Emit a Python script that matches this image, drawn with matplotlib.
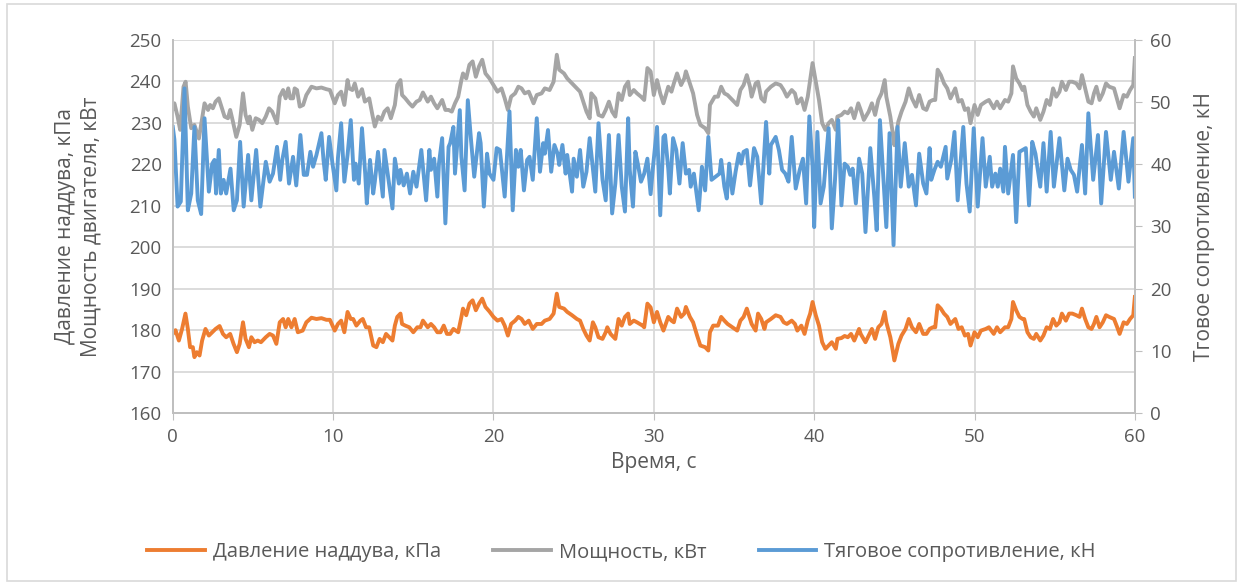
import matplotlib
matplotlib.use('Agg')
import matplotlib.pyplot as plt
from matplotlib.patches import Rectangle

# --- data ---
# boost pressure, kPa (left axis)
t_boost = [0, 0.17, 0.38, 0.58, 0.79, 0.94, 1.08, 1.25, 1.35, 1.5, 1.67, 1.83, 2.04, 2.25, 2.46, 2.67,
           2.92, 3.13, 3.33, 3.58, 3.79, 4.0, 4.17, 4.38, 4.54, 4.75, 4.9, 5.1, 5.3, 5.5, 5.8, 6.04,
           6.25, 6.46, 6.67, 6.88, 7.04, 7.2, 7.4, 7.6, 7.8, 8.1, 8.33, 8.65, 8.96, 9.27, 9.58,
           9.8, 10.1, 10.3, 10.5, 10.7, 10.9, 11.1, 11.25, 11.45, 11.7, 11.85, 12.05, 12.25, 12.5,
           12.7, 12.9, 13.1, 13.3, 13.5, 13.7, 13.85, 14.0, 14.2, 14.3, 14.5, 14.75, 15.0, 15.25,
           15.45, 15.6, 15.9, 16.1, 16.3, 16.5, 16.7, 16.9, 17.1, 17.3, 17.5, 17.8, 18.0, 18.1,
           18.3, 18.5, 18.7, 18.9, 19.1, 19.3, 19.5, 19.75,
           20.0, 20.25, 20.5, 20.7, 20.9, 21.1, 21.35, 21.55, 21.75, 21.95, 22.2, 22.45, 22.7, 23.0,
           23.2, 23.5, 23.75, 23.95, 24.1, 24.4, 24.6, 24.9, 25.2, 25.4, 25.6, 25.8, 26.0, 26.2,
           26.35, 26.55, 26.8, 27.0, 27.1, 27.3, 27.6, 27.8, 28.0, 28.2, 28.4, 28.5, 28.75, 28.95,
           29.3, 29.4, 29.6,
           29.8, 30.0, 30.2, 30.4, 30.6, 30.9, 31.1, 31.25, 31.45, 31.7, 31.9, 32.0, 32.25, 32.45,
           32.7, 32.9, 33.2, 33.4, 33.5, 33.7, 34.0, 34.2, 34.4, 34.6, 34.9, 35.2, 35.4, 35.6, 35.8,
           36.0, 36.1, 36.35, 36.5, 36.7, 36.9, 37.0, 37.3, 37.6, 37.9, 38.1, 38.3, 38.6, 38.8,
           38.95, 39.2, 39.4, 39.6, 39.75,
           39.9, 40.1, 40.3, 40.5, 40.7, 40.9, 41.1, 41.35, 41.45, 41.7, 41.9, 42.1, 42.3, 42.5,
           42.8, 42.9, 43.2, 43.4, 43.6, 43.8, 44.0, 44.2, 44.4, 44.5, 44.75, 44.9, 45.0, 45.25,
           45.45, 45.7, 45.9, 46.1, 46.35, 46.55, 46.8, 47.0, 47.2, 47.4, 47.55, 47.7, 47.9, 48.1,
           48.3, 48.5, 48.8, 49.0, 49.2, 49.4, 49.6, 49.75,
           50.0, 50.2, 50.4, 50.7, 50.9, 51.2, 51.4, 51.6, 51.9, 52.1, 52.3, 52.4, 52.6, 52.8, 53.0,
           53.1, 53.3, 53.5, 53.7, 53.85, 54.1, 54.3, 54.5, 54.7, 54.9, 55.1, 55.3, 55.45, 55.7,
           55.9, 56.1, 56.35, 56.55, 56.7, 56.9, 57.1, 57.3, 57.45, 57.6, 57.8, 58.0, 58.2, 58.4,
           58.7, 58.9, 59.05, 59.3, 59.5, 59.7, 59.9, 60.0]
boost = [179.1, 180.0, 177.5, 180.3, 184.0, 180.3, 175.9, 175.9, 173.5, 174.7, 173.9, 177.5, 180.3,
         178.7, 179.5, 180.3, 181.0, 179.1, 178.3, 179.1, 176.7, 174.7, 176.7, 181.9, 177.9, 175.9,
         178.3, 177.1, 177.5, 177.1, 178.3, 179.1, 178.7, 176.7, 181.9, 182.7, 180.7, 182.7, 180.7,
         182.7, 179.5, 179.9, 181.9, 183.0, 182.7, 182.9, 182.5,
         182.5, 179.9, 181.5, 182.3, 179.5, 184.4, 182.7, 182.7, 181.1, 182.3, 182.7, 180.7, 180.7,
         176.3, 175.9, 177.9, 177.1, 179.1, 178.3, 177.5, 181.1, 183.2, 184.0, 181.5, 181.1, 180.7,
         179.5, 180.7, 180.7, 182.3, 180.7, 181.5, 180.7, 179.5, 179.5, 181.1, 179.1, 179.1, 180.3,
         179.5, 183.2, 185.2, 183.6, 186.4, 187.2, 184.8, 186.4, 187.6, 185.6, 184.5,
         183.2, 182.3, 182.7, 181.1, 178.7, 181.5, 182.3, 183.2, 182.7, 181.5, 182.3, 180.3, 181.5,
         181.5, 182.3, 182.7, 184.0, 188.8, 185.6, 185.2, 184.4, 183.6, 182.7, 182.3, 180.3, 178.7,
         177.5, 181.9, 180.7, 178.3, 177.9, 179.5, 180.7, 179.1, 177.9, 182.7, 181.1, 183.2, 184.0,
         181.5, 182.3, 181.9, 181.1, 180.7, 186.4,
         185.5, 181.9, 184.4, 181.9, 179.9, 183.2, 182.3, 181.9, 185.2, 183.2, 184.0, 185.6, 183.2,
         181.9, 178.7, 176.3, 175.9, 175.1, 179.5, 181.1, 181.1, 183.2, 182.3, 181.5, 180.7, 179.9,
         182.3, 183.2, 185.2, 182.7, 181.5, 179.9, 184.0, 182.7, 180.3, 181.9, 182.7, 183.6, 183.2,
         181.9, 181.5, 182.3, 181.5, 179.9, 181.1, 179.1, 182.3, 184.0,
         186.8, 183.6, 181.1, 177.1, 175.5, 176.3, 177.1, 175.5, 177.9, 178.1, 178.6, 178.3, 179.1,
         177.5, 180.3, 179.1, 177.1, 178.7, 180.3, 177.9, 180.7, 181.5, 184.4, 181.9, 178.3, 175.1,
         172.7, 176.7, 178.7, 180.3, 182.7, 180.7, 179.5, 181.5, 179.1, 179.1, 180.3, 180.7, 180.7,
         186.0, 185.2, 184.0, 183.2, 181.5, 182.7, 180.3, 180.7, 178.7, 179.1, 176.3,
         179.5, 178.3, 179.9, 180.3, 180.7, 179.1, 180.7, 179.5, 180.7, 180.7, 182.7, 186.8, 184.8,
         183.2, 182.7, 182.7, 179.5, 178.3, 177.9, 179.1, 177.5, 178.7, 180.7, 180.3, 182.7, 181.1,
         181.9, 184.0, 182.3, 184.0, 184.0, 183.6, 183.2, 185.2, 182.7, 180.7, 180.3, 181.5, 183.2,
         180.7, 181.9, 183.6, 183.2, 182.7, 180.7, 179.1, 181.9, 181.5, 182.7, 183.6, 188.0]

# engine power, kW (left axis)
t_power = [0, 0.1, 0.3, 0.46, 0.67, 0.8, 0.94, 1.15, 1.35, 1.63, 1.83, 1.98, 2.2, 2.33, 2.5, 2.67,
           2.87, 3.0, 3.23, 3.44, 3.58, 3.75, 3.96, 4.17, 4.38, 4.54, 4.7, 4.8, 4.96, 5.17, 5.38,
           5.58, 5.8, 6.0, 6.2, 6.5, 6.67, 6.88, 7.04, 7.2, 7.33, 7.5, 7.6, 7.75, 7.92, 8.13, 8.33,
           8.65, 8.96, 9.27, 9.58,
           9.8, 10.1, 10.3, 10.5, 10.7, 10.9, 11.0, 11.2, 11.35, 11.56, 11.8, 11.98, 12.25, 12.45,
           12.6, 12.8, 13.0, 13.2, 13.4, 13.6, 13.85, 14.0, 14.2, 14.3, 14.5, 14.75, 14.95, 15.2,
           15.4, 15.6, 15.9, 16.1, 16.3, 16.5, 16.8, 17.0, 17.2, 17.4, 17.6, 17.8, 18.0, 18.1, 18.3,
           18.5, 18.7, 18.9, 19.1, 19.3, 19.5, 19.75,
           20.0, 20.25, 20.5, 20.7, 20.9, 21.1, 21.35, 21.55, 21.75, 21.95, 22.2, 22.5, 22.7, 23.0,
           23.2, 23.5, 23.75, 23.95, 24.1, 24.4, 24.6, 24.9, 25.2, 25.4, 25.6, 25.8, 26.0, 26.1,
           26.35, 26.55, 26.8, 27.0, 27.2, 27.4, 27.6, 27.8, 28.0, 28.2, 28.4, 28.5, 28.75, 28.95,
           29.2, 29.4, 29.6,
           29.8, 30.0, 30.2, 30.4, 30.6, 30.9, 31.1, 31.25, 31.45, 31.7, 31.9, 32.0, 32.25, 32.45,
           32.7, 32.9, 33.2, 33.4, 33.5, 33.8, 34.0, 34.2, 34.4, 34.6, 34.9, 35.2, 35.4, 35.6, 35.8,
           36.0, 36.1, 36.35, 36.5, 36.7, 36.9, 37.0, 37.3, 37.6, 37.9, 38.1, 38.3, 38.6, 38.8,
           38.95, 39.2, 39.4, 39.6, 39.75,
           39.9, 40.1, 40.3, 40.5, 40.7, 40.9, 41.1, 41.35, 41.45, 41.7, 41.9, 42.1, 42.3, 42.5,
           42.75, 42.9, 43.1, 43.4, 43.6, 43.8, 44.0, 44.2, 44.4, 44.5, 44.75, 44.9, 45.0, 45.25,
           45.45, 45.7, 45.9, 46.1, 46.35, 46.55, 46.8, 47.0, 47.2, 47.4, 47.55, 47.7, 47.9, 48.1,
           48.3, 48.5, 48.8, 49.0, 49.2, 49.4, 49.6, 49.75,
           50.0, 50.2, 50.4, 50.7, 50.9, 51.2, 51.4, 51.6, 51.9, 52.1, 52.3, 52.4, 52.6, 52.8, 53.0,
           53.1, 53.3, 53.5, 53.7, 53.85, 54.1, 54.3, 54.5, 54.7, 54.9, 55.1, 55.3, 55.45, 55.7,
           55.9, 56.1, 56.35, 56.55, 56.7, 56.9, 57.1, 57.3, 57.45, 57.6, 57.8, 58.0, 58.2, 58.4,
           58.7, 58.9, 59.05, 59.3, 59.5, 59.7, 59.9, 60.0]
power = [233.5, 234.7, 231.5, 228.3, 238.7, 239.9, 233.9, 228.7, 229.5, 226.2, 231.1, 234.7, 233.1,
         234.3, 233.5, 235.1, 235.9, 234.3, 231.5, 231.1, 233.1, 230.3, 226.6, 229.5, 237.1, 231.9,
         229.9, 231.5, 228.3, 231.1, 230.7, 229.9, 231.5, 233.5, 232.7, 229.9, 236.3, 237.9, 235.9,
         238.3, 235.9, 235.9, 238.3, 237.9, 233.9, 234.3, 236.7, 238.7, 238.3, 238.5, 238.1,
         237.9, 234.7, 236.7, 237.5, 234.3, 240.3, 238.3, 237.9, 239.5, 236.3, 238.1, 235.1, 235.9,
         231.9, 229.1, 231.5, 230.7, 232.7, 233.5, 231.1, 234.3, 239.1, 240.3, 236.7, 235.9, 234.7,
         233.9, 235.1, 235.5, 237.3, 235.1, 236.3, 234.7, 233.5, 235.5, 233.1, 233.1, 232.7, 234.7,
         236.3, 240.3, 241.9, 240.7, 244.0, 244.8, 241.1, 243.6, 245.2, 241.9, 240.7,
         239.1, 237.5, 238.3, 235.9, 233.1, 236.3, 237.1, 238.7, 238.3, 237.1, 237.5, 234.7, 236.7,
         237.1, 238.3, 237.9, 239.9, 246.4, 242.8, 241.9, 240.7, 239.5, 238.3, 237.5, 235.1, 232.7,
         231.1, 237.1, 235.9, 231.9, 231.5, 233.1, 235.1, 232.7, 231.5, 237.1, 235.5, 238.7, 239.9,
         236.7, 237.9, 237.1, 236.3, 235.5, 243.2,
         242.4, 236.7, 240.3, 237.1, 234.7, 238.7, 237.5, 239.5, 241.9, 239.1, 240.7, 242.4, 239.5,
         237.1, 231.9, 229.5, 228.7, 227.5, 234.3, 236.3, 236.3, 238.7, 237.1, 236.7, 235.5, 234.3,
         237.9, 239.1, 241.5, 238.7, 236.3, 239.5, 239.9, 235.9, 235.1, 237.5, 238.7, 239.5, 239.1,
         237.9, 236.3, 237.9, 237.1, 234.7, 235.9, 233.1, 236.3, 240.3,
         244.4, 239.9, 235.5, 229.9, 228.3, 229.9, 230.7, 228.3, 231.5, 231.9, 232.7, 232.3, 233.5,
         231.1, 234.7, 233.1, 230.7, 232.7, 234.7, 231.9, 235.5, 237.1, 240.3, 236.3, 231.5, 227.5,
         224.6, 230.3, 232.7, 235.1, 238.3, 235.9, 233.9, 236.7, 233.5, 233.1, 235.1, 235.5, 235.5,
         242.8, 241.5, 239.5, 238.3, 235.9, 238.3, 235.1, 235.5, 233.1, 233.5, 229.9,
         234.3, 231.9, 234.3, 235.1, 235.5, 233.5, 235.1, 233.5, 235.5, 235.1, 237.1, 243.6, 240.7,
         239.5, 237.9, 238.7, 234.3, 232.7, 231.5, 233.5, 230.7, 232.7, 235.5, 234.3, 238.3, 236.3,
         237.5, 239.9, 237.9, 239.9, 239.9, 239.5, 238.3, 241.5, 238.3, 235.1, 234.7, 237.1, 238.7,
         235.5, 237.1, 239.5, 238.7, 238.3, 235.5, 233.5, 236.7, 236.3, 237.9, 239.1, 245.6]

# draft resistance, kN (right axis)
t_drag = [0, 0.1, 0.3, 0.5, 0.73, 0.94, 1.15, 1.35, 1.56, 1.77, 1.98, 2.25, 2.46, 2.6, 2.7, 2.87,
          3.0, 3.17, 3.33, 3.48, 3.6, 3.8, 4.0, 4.2, 4.42, 4.7, 4.9, 5.2, 5.46, 5.8, 6.04, 6.25,
          6.5, 6.7, 6.83, 7.04, 7.25, 7.5, 7.7, 7.96, 8.17, 8.37, 8.58, 8.75, 8.96, 9.27, 9.4,
          9.54, 9.75,
          9.96, 10.2, 10.3, 10.5, 10.7, 10.9, 11.1, 11.3, 11.4, 11.6, 11.8, 12.0, 12.1, 12.3, 12.5,
          12.6, 12.8, 13.1, 13.2, 13.4, 13.7, 13.85, 14.1, 14.2, 14.4, 14.6, 14.8, 15.0, 15.2,
          15.5, 15.6, 15.8, 16.0, 16.1, 16.3, 16.5, 16.6, 16.8, 17.0, 17.2, 17.3, 17.5, 17.6,
          17.9, 18.0, 18.2, 18.4, 18.6, 18.8, 19.1, 19.2, 19.4, 19.6, 19.75,
          20.0, 20.2, 20.4, 20.7, 21.0, 21.2, 21.4, 21.55, 21.7, 21.9, 22.1, 22.25, 22.45, 22.7,
          22.9, 23.1, 23.2, 23.4, 23.6, 23.8, 24.0, 24.1, 24.3, 24.5, 24.6, 24.9, 25.0, 25.2,
          25.4, 25.6, 25.8, 26.0, 26.35, 26.55, 26.8, 27.0, 27.2, 27.4, 27.6, 27.8, 28.0, 28.2,
          28.4, 28.5, 28.7, 28.85, 29.0, 29.2, 29.4, 29.6,
          29.8, 29.95, 30.2, 30.4, 30.6, 30.7, 30.9, 31.0, 31.2, 31.4, 31.6, 31.8, 32.0, 32.2,
          32.3, 32.5, 32.8, 33.0, 33.2, 33.4, 33.6, 33.85, 34.1, 34.2, 34.4, 34.55, 34.7, 34.9,
          35.1, 35.3, 35.45, 35.6, 35.8, 36.0, 36.25, 36.45, 36.7, 37.0, 37.2, 37.3, 37.6, 37.8,
          38.0, 38.2, 38.4, 38.6, 38.85, 39.1, 39.3, 39.5, 39.7,
          39.9, 40.0, 40.2, 40.4, 40.6, 40.9, 41.1, 41.3, 41.5, 41.7, 41.9, 42.1, 42.25, 42.4,
          42.6, 42.8, 43.0, 43.2, 43.5, 43.75, 43.9, 44.1, 44.3, 44.5, 44.7, 44.95, 45.2, 45.4,
          45.65, 45.9, 46.1, 46.35, 46.55, 46.8, 47.0, 47.2, 47.3, 47.5, 47.7, 47.9, 48.2, 48.3,
          48.55, 48.75, 48.95, 49.3, 49.5, 49.7,
          49.95, 50.2, 50.5, 50.7, 50.95, 51.1, 51.3, 51.45, 51.6, 51.8, 51.9, 52.1, 52.4, 52.6,
          52.8, 53.0, 53.2, 53.4, 53.6, 53.8, 54.1, 54.3, 54.5, 54.75, 54.95, 55.3, 55.6, 55.8,
          56.0, 56.2, 56.4, 56.7, 56.9, 57.1, 57.4, 57.7, 57.9, 58.2, 58.5, 58.7, 59.0, 59.3,
          59.6, 59.9, 60.0]
drag = [46.0, 44.0, 33.2, 34.0, 52.2, 32.6, 35.3, 46.0, 34.2, 32.0, 47.4, 35.6, 40.1, 40.7, 35.3,
        42.3, 35.3, 37.5, 35.3, 37.5, 39.3, 32.6, 34.2, 43.6, 33.2, 41.5, 34.2, 42.3, 33.2, 40.4,
        37.2, 38.5, 42.8, 37.5, 40.7, 43.6, 36.9, 41.2, 36.6, 44.7, 38.3, 38.3, 42.0, 39.6, 41.5,
        45.0, 40.7, 37.5, 44.4,
        40.1, 35.8, 41.0, 46.6, 37.2, 41.5, 47.1, 37.5, 40.1, 36.9, 45.8, 38.5, 33.7, 40.7, 35.3,
        37.2, 42.0, 34.8, 42.3, 38.5, 32.9, 40.9, 36.9, 39.1, 36.6, 38.5, 35.3, 38.8, 36.4, 42.3,
        39.6, 34.2, 42.3, 39.1, 40.9, 34.8, 40.1, 44.2, 30.5, 42.8, 43.4, 46.0, 38.5, 48.7, 41.2,
        35.8, 50.3, 43.9, 38.0, 45.0, 43.4, 33.2, 41.7, 38.5,
        37.5, 42.6, 42.3, 34.8, 48.5, 32.6, 42.3, 39.6, 42.3, 35.8, 40.7, 41.2, 37.5, 47.4, 38.8,
        43.4, 41.7, 45.5, 38.8, 43.1, 41.7, 39.9, 43.1, 38.5, 41.5, 35.6, 40.9, 38.0, 42.3, 36.4,
        38.8, 44.2, 35.6, 46.6, 37.5, 34.2, 44.7, 32.1, 36.9, 44.7, 36.4, 32.4, 47.4, 39.1, 33.2,
        42.0, 40.1, 37.2, 38.5, 40.9,
        35.2, 39.6, 46.0, 31.8, 44.4, 44.7, 39.3, 35.3, 44.2, 42.3, 36.9, 43.4, 38.5, 39.1, 36.4,
        38.5, 32.6, 39.6, 35.8, 44.4, 37.5, 38.0, 38.5, 40.7, 36.4, 34.5, 40.1, 35.3, 38.8, 41.7,
        40.1, 42.0, 42.3, 36.6, 42.6, 41.2, 33.7, 46.8, 38.5, 43.1, 44.4, 42.3, 39.1, 38.5, 37.2,
        44.4, 36.1, 39.1, 40.9, 33.7, 47.7,
        39.6, 29.9, 45.2, 33.7, 36.4, 45.8, 29.7, 37.5, 47.1, 33.4, 40.1, 39.6, 38.3, 39.3, 33.7,
        40.9, 38.5, 29.1, 42.6, 34.8, 29.4, 47.1, 38.5, 29.9, 45.0, 27.0, 46.0, 36.4, 43.4, 36.4,
        38.3, 33.4, 41.7, 36.9, 35.3, 42.6, 37.5, 39.1, 40.4, 39.6, 42.8, 37.7, 40.7, 45.2, 34.2,
        46.0, 36.9, 32.4,
        45.8, 33.2, 44.2, 36.4, 41.2, 36.4, 38.5, 36.4, 39.3, 35.6, 42.8, 35.3, 41.5, 30.7, 42.0,
        42.3, 42.6, 33.4, 43.6, 41.7, 36.4, 43.4, 35.6, 45.2, 36.4, 44.2, 35.8, 40.9, 39.1, 38.3,
        35.6, 43.1, 35.3, 48.2, 37.5, 44.7, 33.7, 45.2, 37.5, 42.0, 36.1, 45.2, 37.2, 44.2, 34.8]

x_ticks = [0, 10, 20, 30, 40, 50, 60]
left_ticks = [160, 170, 180, 190, 200, 210, 220, 230, 240, 250]
right_ticks = [0, 10, 20, 30, 40, 50, 60]

txt = '#595959'
grid_c = '#D9D9D9'
axis_c = '#BFBFBF'

plt.rcParams['font.family'] = ['Open Sans', 'DejaVu Sans']
plt.rcParams['font.size'] = 13

fig = plt.figure(figsize=(12.43, 5.86), dpi=100)
ax = fig.add_axes([0.139, 0.295, 0.774, 0.637])
ax2 = ax.twinx()

lw = 2.8
l1, = ax.plot(t_boost, boost, color='#ED7D31', lw=lw, label='Давление наддува, кПа',
              solid_joinstyle='round')
l2, = ax.plot(t_power, power, color='#A5A5A5', lw=lw, label='Мощность, кВт',
              solid_joinstyle='round')
l3, = ax2.plot(t_drag, drag, color='#5B9BD5', lw=lw, label='Тяговое сопротивление, кН',
               solid_joinstyle='round')

ax.set_xlim(0, 60)
ax.set_ylim(160, 250)
ax2.set_ylim(0, 60)
ax.set_xticks(x_ticks)
ax.set_yticks(left_ticks)
ax2.set_yticks(right_ticks)

ax.grid(True, color=grid_c, lw=1.3)
ax.set_axisbelow(True)

for a in (ax, ax2):
    for s in a.spines.values():
        s.set_color(axis_c)
        s.set_linewidth(1.3)
    a.spines['top'].set_visible(False)
ax.tick_params(axis='y', length=0, colors=txt, labelsize=13.5, pad=8)
ax.tick_params(axis='x', length=5, color=axis_c, labelcolor=txt, labelsize=13.5, pad=6)
ax2.tick_params(axis='y', length=5, color=axis_c, labelcolor=txt, labelsize=13.5, pad=6)

ax.set_xlabel('Время, с', color=txt, fontsize=15, labelpad=4)
ax.set_ylabel('Давление наддува, кПа\nМощность двигателя, кВт', color=txt, fontsize=15,
              labelpad=20, linespacing=1.3)
ax2.set_ylabel('Тговое сопротивление, кН', color=txt, fontsize=15, labelpad=16)

fig.legend(handles=[l1, l2, l3], loc='center', bbox_to_anchor=(0.5, 0.058), ncol=3,
           frameon=False, fontsize=14.5, handlelength=2.85, handletextpad=0.4,
           columnspacing=2.6, labelcolor=txt)

# outer chart border like the spreadsheet chart area
fig.patches.append(Rectangle((0.006, 0.008), 0.988, 0.985, transform=fig.transFigure,
                             fill=False, edgecolor=grid_c, lw=1.2))

fig.savefig('out.png', dpi=100, facecolor='white')
